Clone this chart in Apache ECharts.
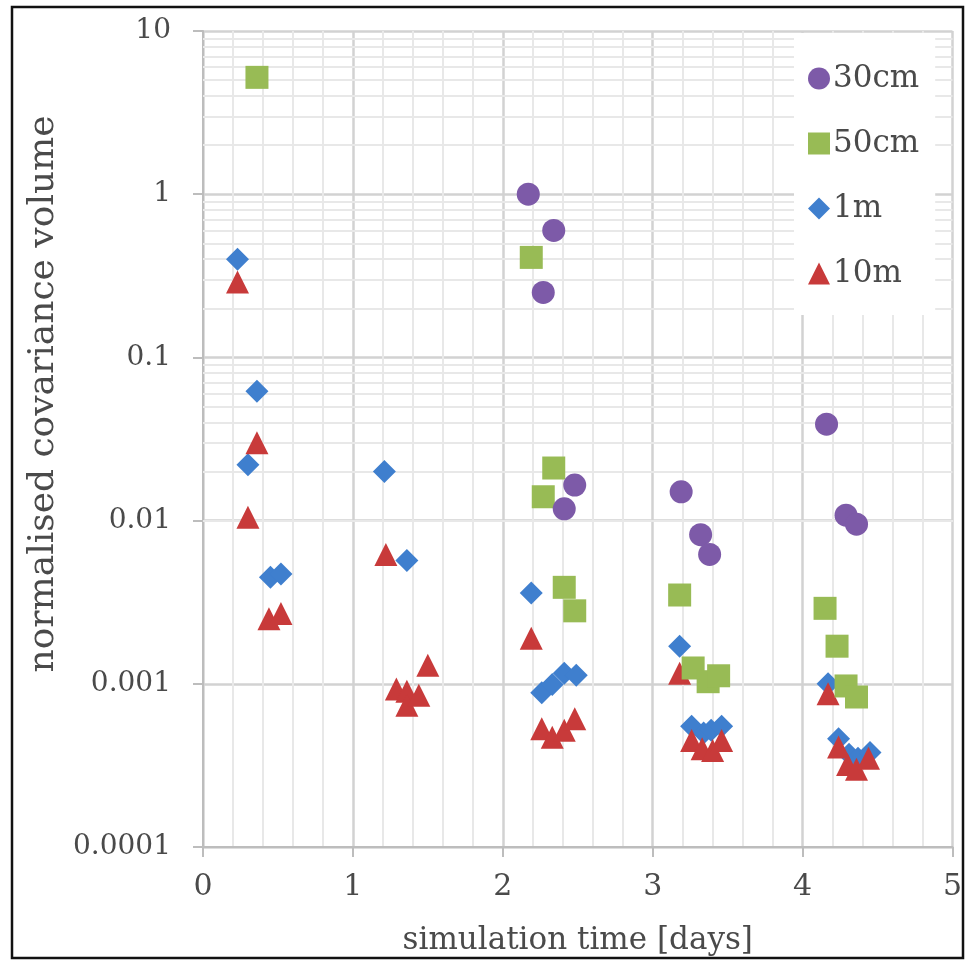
<!DOCTYPE html>
<html>
<head>
<meta charset="utf-8">
<script src="https://cdn.jsdelivr.net/npm/echarts@6/dist/echarts.min.js"></script>
<style>
html,body{margin:0;padding:0;background:#fff;}
#chart{width:965px;height:963px;}
</style>
</head>
<body>
<div id="chart"></div>
<script>
// ---- data ----
const seriesNames = ['30cm', '50cm', '1m', '10m'];

const x30cm = [2.17, 2.34, 2.27, 2.48, 2.41, 3.19, 3.32, 3.38, 4.16, 4.29, 4.36];
const y30cm = [1.0, 0.6, 0.25, 0.0165, 0.0118, 0.015, 0.0082, 0.0062, 0.039, 0.0108, 0.0095];

const x50cm = [0.36, 2.19, 2.34, 2.27, 2.41, 2.48, 3.18, 3.27, 3.37, 3.44, 4.15, 4.23, 4.29, 4.36];
const y50cm = [5.2, 0.41, 0.021, 0.014, 0.0039, 0.0028, 0.0035, 0.00125, 0.00103, 0.00112, 0.0029, 0.0017, 0.00097, 0.00083];

const x1m = [0.23, 0.36, 0.30, 0.45, 0.52, 1.21, 1.36, 2.19, 2.26, 2.33, 2.41, 2.49, 3.18, 3.26, 3.34, 3.39, 3.46, 4.17, 4.24, 4.31, 4.37, 4.45];
const y1m = [0.4, 0.062, 0.022, 0.0045, 0.0047, 0.02, 0.0057, 0.0036, 0.00088, 0.00099, 0.00116, 0.00113, 0.0017, 0.00055, 0.0005, 0.00052, 0.00055, 0.001, 0.00046, 0.00037, 0.00035, 0.00038];

const x10m = [0.23, 0.36, 0.30, 0.44, 0.52, 1.22, 1.29, 1.36, 1.36, 1.44, 1.50, 2.19, 2.26, 2.33, 2.41, 2.48, 3.18, 3.26, 3.33, 3.40, 3.46, 4.17, 4.24, 4.30, 4.36, 4.44];
const y10m = [0.29, 0.03, 0.0105, 0.0025, 0.0027, 0.0062, 0.00093, 0.0009, 0.00074, 0.00085, 0.0013, 0.0019, 0.00053, 0.00047, 0.00052, 0.00061, 0.00116, 0.00045, 0.0004, 0.00039, 0.00045, 0.00087, 0.00041, 0.00032, 0.0003, 0.00035];

const xTicks = [0, 1, 2, 3, 4, 5];
const yTickLabels = ['0.0001', '0.001', '0.01', '0.1', '1', '10'];
const yDecades = [0.0001, 0.001, 0.01, 0.1, 1, 10];
const minorMultipliers = [2, 3, 4, 5, 6, 7, 8, 9];

const xTitle = 'simulation time [days]';
const yTitle = 'normalised covariance volume';

// ---- build ----
function pairs(xs, ys) { return xs.map((x, i) => [x, ys[i]]); }

const minorYLines = [];
yDecades.slice(0, -1).forEach(d => minorMultipliers.forEach(m => minorYLines.push({ yAxis: +(d * m).toPrecision(3) })));

const FONT = 'DejaVu Serif';
const TXT = '#4a4a4a';
const colors = ['#7d5aa8', '#98bb55', '#3f7fce', '#c83a3a'];
const symbols = ['circle', 'rect', 'diamond', 'triangle'];
const dataSets = [pairs(x30cm, y30cm), pairs(x50cm, y50cm), pairs(x1m, y1m), pairs(x10m, y10m)];
const zs = [5, 4, 2, 3];

const series = seriesNames.map((name, i) => ({
  name: name,
  type: 'scatter',
  data: dataSets[i],
  symbol: symbols[i],
  symbolSize: 23,
  z: zs[i],
  itemStyle: { color: colors[i], opacity: 1 },
  emphasis: { disabled: true }
}));

// minor horizontal grid lines at 2..9 of each decade
series.push({
  name: 'minorgrid',
  type: 'scatter',
  data: [],
  z: 1,
  silent: true,
  markLine: {
    silent: true,
    z: 1,
    symbol: ['none', 'none'],
    label: { show: false },
    lineStyle: { color: '#e8e8e8', width: 2, type: 'solid' },
    emphasis: { disabled: true },
    animation: false,
    data: minorYLines
  }
});

const chart = echarts.init(document.getElementById('chart'), null, { renderer: 'canvas' });
chart.setOption({
  animation: false,
  backgroundColor: '#ffffff',
  grid: { left: 203, top: 31, right: 7, bottom: 116, containLabel: false },
  xAxis: {
    type: 'value',
    min: xTicks[0],
    max: xTicks[xTicks.length - 1],
    interval: 1,
    name: xTitle,
    nameLocation: 'middle',
    nameGap: 78,
    nameTextStyle: { fontFamily: FONT, fontSize: 31, color: TXT },
    axisLine: { show: true, lineStyle: { color: '#bdbdbd', width: 2 } },
    axisTick: { show: true, length: 10, lineStyle: { color: '#bdbdbd', width: 2 } },
    axisLabel: { fontFamily: FONT, fontSize: 30, color: TXT, margin: 25 },
    splitLine: { show: true, lineStyle: { color: '#d2d2d2', width: 2.5 } },
    minorTick: { show: false, splitNumber: 5 },
    minorSplitLine: { show: true, lineStyle: { color: '#e8e8e8', width: 2 } }
  },
  yAxis: {
    type: 'log',
    logBase: 10,
    min: yDecades[0],
    max: yDecades[yDecades.length - 1],
    axisLine: { show: true, lineStyle: { color: '#bdbdbd', width: 2 } },
    axisTick: { show: true, length: 10, lineStyle: { color: '#bdbdbd', width: 2 } },
    axisLabel: {
      fontFamily: FONT, fontSize: 28, color: TXT, margin: 32,
      formatter: function (v) {
        const idx = yDecades.findIndex(d => Math.abs(Math.log10(d) - Math.log10(v)) < 1e-6);
        return idx >= 0 ? yTickLabels[idx] : '';
      }
    },
    splitLine: { show: true, lineStyle: { color: '#d2d2d2', width: 2.5 } }
  },
  legend: {
    orient: 'vertical',
    left: 794,
    top: 33,
    padding: [30, 16, 26, 14],
    itemGap: 34,
    itemWidth: 22,
    itemHeight: 22,
    backgroundColor: '#ffffff',
    data: seriesNames,
    textStyle: { fontFamily: FONT, fontSize: 31, color: TXT, padding: [0, 0, 0, -2] },
    selectedMode: false
  },
  graphic: [
    {
      type: 'text',
      x: 44, y: 394,
      rotation: Math.PI / 2,
      style: {
        text: yTitle,
        font: '36px "' + FONT + '"',
        fill: TXT,
        textAlign: 'center',
        textVerticalAlign: 'middle'
      }
    },
    {
      type: 'rect',
      shape: { x: 12, y: 7, width: 951, height: 951 },
      style: { fill: 'none', stroke: '#111', lineWidth: 2.5 },
      silent: true,
      z: 10
    }
  ],
  series: series
});
</script>
</body>
</html>
